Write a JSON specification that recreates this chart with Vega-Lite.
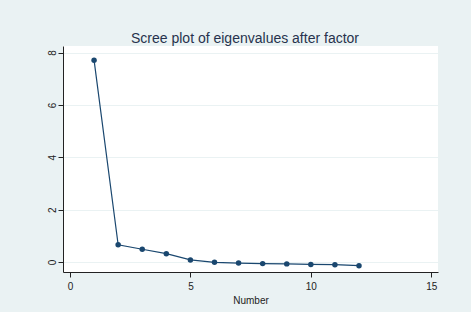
{
  "$schema": "https://vega.github.io/schema/vega-lite/v6.json",
  "autosize": {"type": "none"},
  "width": 375,
  "height": 226,
  "padding": {"left": 63, "top": 46, "right": 33, "bottom": 40},
  "background": "#eaf2f3",
  "title": {
    "text": "Scree plot of eigenvalues after factor",
    "font": "Liberation Sans",
    "fontSize": 14,
    "fontWeight": "normal",
    "color": "#27324d",
    "anchor": "middle",
    "baseline": "alphabetic",
    "offset": -11,
    "dx": -5.5
  },
  "data": {
    "values": [
      {"Number": 1, "Eigenvalue": 7.71},
      {"Number": 2, "Eigenvalue": 0.66},
      {"Number": 3, "Eigenvalue": 0.49},
      {"Number": 4, "Eigenvalue": 0.32},
      {"Number": 5, "Eigenvalue": 0.08},
      {"Number": 6, "Eigenvalue": -0.01},
      {"Number": 7, "Eigenvalue": -0.04},
      {"Number": 8, "Eigenvalue": -0.06},
      {"Number": 9, "Eigenvalue": -0.07},
      {"Number": 10, "Eigenvalue": -0.09},
      {"Number": 11, "Eigenvalue": -0.10},
      {"Number": 12, "Eigenvalue": -0.14}
    ]
  },
  "encoding": {
    "x": {
      "field": "Number",
      "type": "quantitative",
      "scale": {"domain": [-0.29, 15.28], "nice": false, "zero": false},
      "axis": {
        "values": [0, 5, 10, 15],
        "grid": false,
        "title": "Number",
        "titlePadding": 4
      }
    },
    "y": {
      "field": "Eigenvalue",
      "type": "quantitative",
      "scale": {"domain": [-0.38, 8.25], "nice": false, "zero": false},
      "axis": {
        "values": [0, 2, 4, 6, 8],
        "grid": true,
        "title": null,
        "labelAngle": -90,
        "labelAlign": "center",
        "labelBaseline": "bottom",
        "labelPadding": 1
      }
    }
  },
  "layer": [
    {"mark": {"type": "line", "color": "#1a476f", "strokeWidth": 1.2}},
    {"mark": {"type": "point", "filled": true, "opacity": 1, "color": "#1a476f", "size": 30}}
  ],
  "config": {
    "view": {"fill": "white", "stroke": null},
    "axis": {
      "labelFont": "Liberation Sans",
      "titleFont": "Liberation Sans",
      "labelFontSize": 10,
      "titleFontSize": 10,
      "titleFontWeight": "normal",
      "labelColor": "#222222",
      "titleColor": "#222222",
      "domainColor": "#222222",
      "tickColor": "#222222",
      "domainWidth": 1,
      "tickWidth": 1,
      "tickSize": 5,
      "gridColor": "#eaf2f3",
      "gridWidth": 1
    },
    "axisX": {"labelPadding": 4}
  }
}
